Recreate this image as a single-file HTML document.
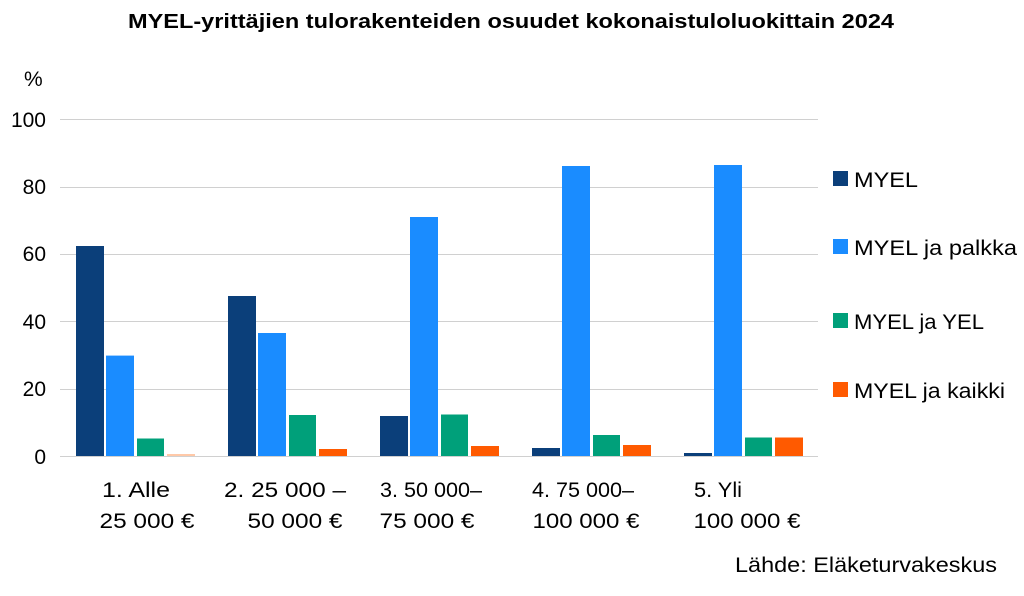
<!DOCTYPE html>
<html><head><meta charset="utf-8"><style>
body{margin:0;background:#fff;}
svg text{font-family:"Liberation Sans",sans-serif;fill:#000;}
</style></head><body>
<svg width="1024" height="591" xmlns="http://www.w3.org/2000/svg">
<rect width="1024" height="591" fill="#fff"/>
<text x="511" y="28" font-size="20" font-weight="bold" text-anchor="middle" textLength="766" lengthAdjust="spacingAndGlyphs">MYEL-yrittäjien tulorakenteiden osuudet kokonaistuloluokittain 2024</text>
<text x="24" y="86" font-size="21">%</text>
<g stroke="#d0d0d0" stroke-width="1">
<line x1="60" x2="818" y1="119.5" y2="119.5"/>
<line x1="60" x2="818" y1="187.5" y2="187.5"/>
<line x1="60" x2="818" y1="254.5" y2="254.5"/>
<line x1="60" x2="818" y1="321.5" y2="321.5"/>
<line x1="60" x2="818" y1="389.5" y2="389.5"/>
<line x1="60" x2="818" y1="456.5" y2="456.5"/>
</g>
<g font-size="21" text-anchor="end">
<text x="46" y="127">100</text><text x="46" y="194">80</text><text x="46" y="261">60</text>
<text x="46" y="329">40</text><text x="46" y="396">20</text><text x="46" y="464">0</text>
</g>
<g>
<rect x="76" y="246" width="28" height="210" fill="#0B3F7A"/>
<rect x="106" y="355.6" width="28" height="100.4" fill="#1A8CFF"/>
<rect x="137" y="438.5" width="27" height="17.5" fill="#00A07A"/>
<rect x="167" y="454" width="28" height="2" fill="#FFC9A8"/>

<rect x="228" y="296" width="28" height="160" fill="#0B3F7A"/>
<rect x="258" y="333" width="28" height="123" fill="#1A8CFF"/>
<rect x="289" y="415" width="27" height="41" fill="#00A07A"/>
<rect x="319" y="449" width="28" height="7" fill="#FF5A00"/>

<rect x="380" y="416" width="28" height="40" fill="#0B3F7A"/>
<rect x="410" y="217" width="28" height="239" fill="#1A8CFF"/>
<rect x="441" y="414.5" width="27" height="41.5" fill="#00A07A"/>
<rect x="471" y="446" width="28" height="10" fill="#FF5A00"/>

<rect x="532" y="448" width="28" height="8" fill="#0B3F7A"/>
<rect x="562" y="166" width="28" height="290" fill="#1A8CFF"/>
<rect x="593" y="435" width="27" height="21" fill="#00A07A"/>
<rect x="623" y="445" width="28" height="11" fill="#FF5A00"/>

<rect x="684" y="453" width="28" height="3" fill="#0B3F7A"/>
<rect x="714" y="165" width="28" height="291" fill="#1A8CFF"/>
<rect x="745" y="437.5" width="27" height="18.5" fill="#00A07A"/>
<rect x="775" y="437.5" width="28" height="18.5" fill="#FF5A00"/>
</g>
<g font-size="21" text-anchor="middle">
<text x="136" y="497" textLength="68" lengthAdjust="spacingAndGlyphs">1. Alle</text><text x="147" y="528" textLength="95" lengthAdjust="spacingAndGlyphs">25 000 €</text>
<text x="285" y="497" textLength="122" lengthAdjust="spacingAndGlyphs">2. 25 000 –</text><text x="295" y="528" textLength="95" lengthAdjust="spacingAndGlyphs">50 000 €</text>
<text x="431" y="497" textLength="102" lengthAdjust="spacingAndGlyphs">3. 50 000–</text><text x="427" y="528" textLength="95" lengthAdjust="spacingAndGlyphs">75 000 €</text>
<text x="583" y="497" textLength="102" lengthAdjust="spacingAndGlyphs">4. 75 000–</text><text x="586" y="528" textLength="107" lengthAdjust="spacingAndGlyphs">100 000 €</text>
<text x="718" y="497" textLength="48" lengthAdjust="spacingAndGlyphs">5. Yli</text><text x="747" y="528" textLength="107" lengthAdjust="spacingAndGlyphs">100 000 €</text>
</g>
<g font-size="21">
<rect x="833" y="171" width="15" height="15" fill="#0B3F7A"/><text x="854" y="187" textLength="64" lengthAdjust="spacingAndGlyphs">MYEL</text>
<rect x="833" y="239" width="15" height="15" fill="#1A8CFF"/><text x="854" y="255" textLength="163" lengthAdjust="spacingAndGlyphs">MYEL ja palkka</text>
<rect x="833" y="313" width="15" height="15" fill="#00A07A"/><text x="854" y="329" textLength="130" lengthAdjust="spacingAndGlyphs">MYEL ja YEL</text>
<rect x="833" y="382" width="15" height="15" fill="#FF5A00"/><text x="854" y="398" textLength="151" lengthAdjust="spacingAndGlyphs">MYEL ja kaikki</text>
</g>
<text x="997" y="572" font-size="21" text-anchor="end" textLength="262" lengthAdjust="spacingAndGlyphs">Lähde: Eläketurvakeskus</text>
</svg>
</body></html>
